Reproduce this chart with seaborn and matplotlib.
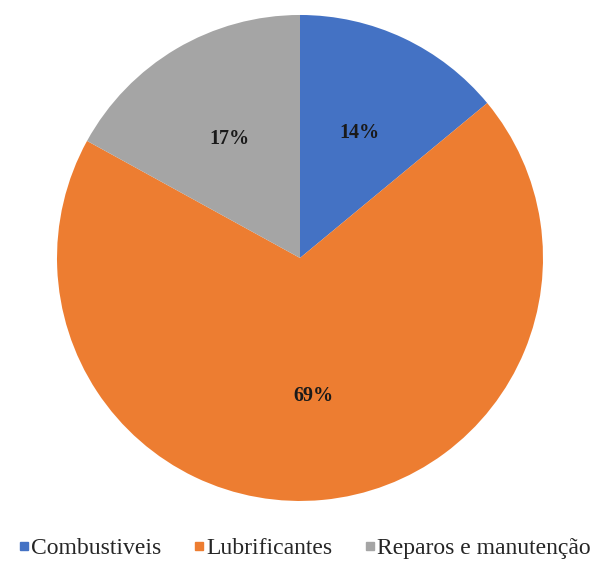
import matplotlib
matplotlib.use("Agg")
import matplotlib.pyplot as plt
import seaborn as sns
from matplotlib.lines import Line2D

categories = ["Combustiveis", "Lubrificantes", "Reparos e manutenção"]
values = [14, 69, 17]
colors = ["#4472C4", "#ED7D31", "#A5A5A5"]

sns.set_theme(style="white")
plt.rcParams['font.family'] = ['Liberation Serif', 'DejaVu Serif']

fig = plt.figure(figsize=(6, 5.61), dpi=100)
ax = fig.add_axes([0.095, 0.107, 0.81, 0.8663])
wedges, texts, autotexts = ax.pie(
    values, colors=sns.color_palette(colors), startangle=90, counterclock=False,
    autopct=lambda p: f"{p:.0f}%", pctdistance=0.57,
    wedgeprops=dict(linewidth=0),
    textprops=dict(fontsize=14.5, fontweight="bold", color="#1a1a1a"))
ax.set_xlim(-1, 1)
ax.set_ylim(-1, 1)
ax.set_aspect("equal")
ax.axis("off")

handles = [Line2D([0], [0], marker="s", linestyle="", markersize=6,
                  markerfacecolor=c, markeredgecolor=c) for c in colors]
fig.legend(handles, categories, loc="center", ncol=3, frameon=False,
           bbox_to_anchor=(0.506, 0.022), fontsize=17, handletextpad=0.0,
           columnspacing=1.3, handlelength=0.6, borderpad=0, borderaxespad=0)

fig.savefig("out.png", dpi=100)
